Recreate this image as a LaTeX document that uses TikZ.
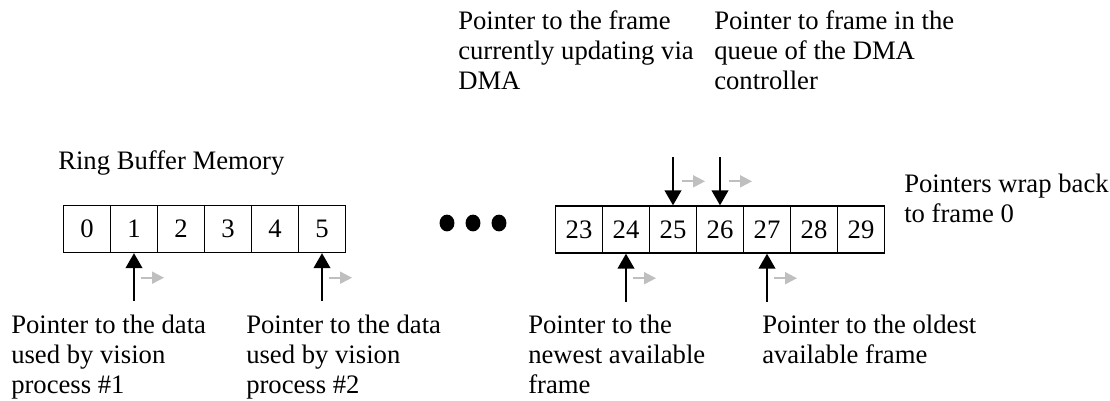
\documentclass[tikz,border=0pt]{standalone}
\usepackage{fontspec}
\setmainfont{Liberation Serif}
\usetikzlibrary{arrows.meta}

\tikzset{
    cell/.style={draw, line width=1pt, minimum width=35.25pt, minimum height=35.25pt,
        inner sep=0pt, font=\fontsize{20}{22.5}\selectfont},
    pointertext/.style={anchor=base west, inner sep=0pt, align=flush left, text width=200pt,
        font=\fontsize{20}{22.5}\selectfont},
    ptr/.style={line width=1.5pt, -{Triangle[width=12.5pt,length=11.25pt]}},
    move/.style={line width=1.5pt, draw=black!25, -{Triangle[width=9pt,length=9pt]}},
}

\begin{document}
\begin{tikzpicture}[x=0.75pt, y=-0.75pt]

\useasboundingbox (0,0) rectangle (1110,400);

% Draw the first frames of the ring buffer
\node[pointertext] (title) at (58,169) {Ring Buffer Memory};
\foreach \n in {0,...,5} {
    \node[cell] (c\n) at ({87 + 47*\n}, 229) {\n};
}

% Dots for the skipped frames
\foreach \x in {447,473,499} {
    \fill (\x,223) ellipse [x radius=5.6pt, y radius=6.3pt];
}

% Draw the last frames
\foreach \n in {23,...,29} {
    \node[cell] (c\n) at ({579 + 47*(\n-23)}, 229.5) {\n};
}

% Pointers from below, each with its direction of motion
\foreach \c in {1,5,24,27} {
    \coordinate (tail\c) at ([yshift=-36pt]c\c.south);
    \draw[ptr] (tail\c) -- (c\c.south);
    \coordinate (mv\c) at ([shift={(5.25pt,-18.4pt)}]c\c.south);
    \draw[move] (mv\c) -- ++(17.25pt,0);
}

% Pointers from above (DMA)
\foreach \c in {25,26} {
    \coordinate (tail\c) at ([yshift=36pt]c\c.north);
    \draw[ptr] (tail\c) -- (c\c.north);
    \coordinate (mv\c) at ([shift={(6.75pt,18pt)}]c\c.north);
    \draw[move] (mv\c) -- ++(17.25pt,0);
}

% Labels
\node[pointertext] (vis1) at (11,333) {Pointer to the data\\used by vision\\process \#1};
\node[pointertext] (vis2) at (246,333) {Pointer to the data\\used by vision\\process \#2};
\node[pointertext] (newest) at (528,333) {Pointer to the\\newest available\\frame};
\node[pointertext] (oldest) at (762,333) {Pointer to the oldest\\available frame};
\node[pointertext] (dma) at (458,29) {Pointer to the frame\\currently updating via\\DMA};
\node[pointertext] (queue) at (714,29) {Pointer to frame in the\\queue of the DMA\\controller};
\node[pointertext] (wrap) at (904,192) {Pointers wrap back\\to frame 0};

\end{tikzpicture}
\end{document}
